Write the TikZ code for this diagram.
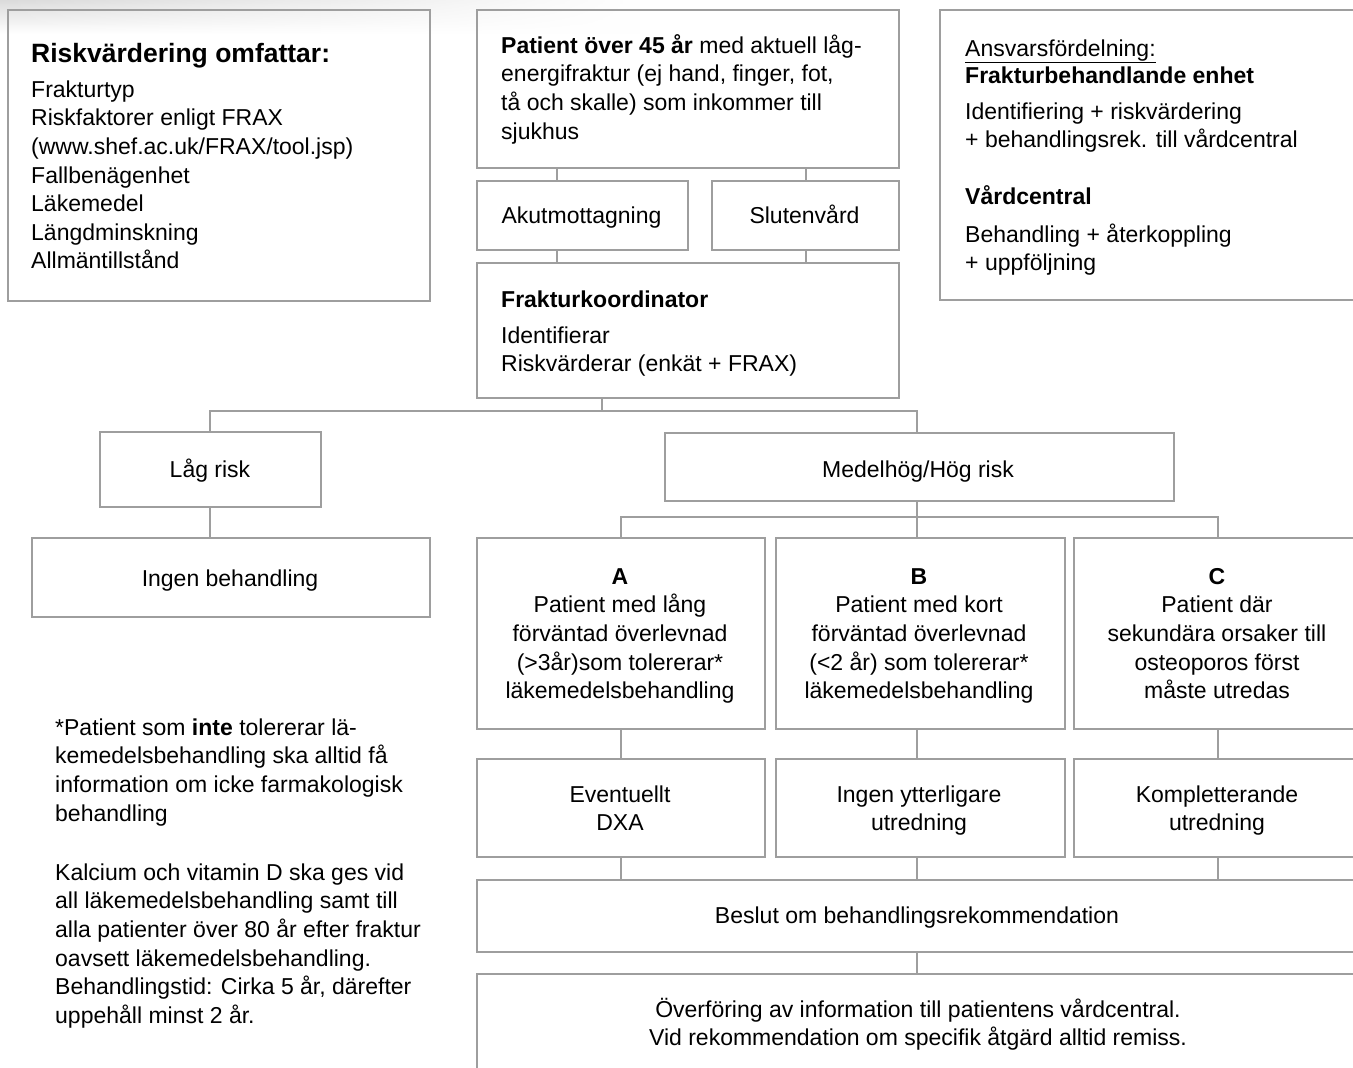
\documentclass[tikz,border=0pt]{standalone}
\usepackage{fontspec}
\setmainfont{Liberation Sans}
\usetikzlibrary{fadings}
\definecolor{linegray}{RGB}{158,158,158}
\newcommand{\fl}{\rule{0pt}{21pt}}
\newcommand{\bodysize}{\fontsize{23}{28.6}\selectfont}
\begin{document}
\begin{tikzpicture}[x=1pt,y=-1pt,
  box/.style={draw=linegray,line width=2.2pt,rectangle,inner sep=0pt,anchor=north west},
  conn/.style={draw=linegray,line width=2pt},
  txt/.style={inner sep=0pt,font=\bodysize,align=left,anchor=north west},
  ctxt/.style={inner sep=0pt,font=\bodysize,align=center,anchor=north},
  ]
\useasboundingbox (0,0) rectangle (1353,1068);
\clip (0,0) rectangle (1353,1068);
\fill[white] (0,0) rectangle (1353,1068);
\shade[top color=black!14,bottom color=white,path fading=east] (0,0) rectangle (640,34);

% boxes
\node[box,minimum width=422pt,minimum height=291pt] (risk) at (7,9) {};
\node[box,minimum width=422pt,minimum height=158pt] (pat) at (476,9) {};
\node[box,minimum width=211pt,minimum height=69pt] (akut) at (476,180) {};
\node[box,minimum width=187pt,minimum height=69pt] (sluten) at (711,180) {};
\node[box,minimum width=422pt,minimum height=135pt] (koord) at (476,262) {};
\node[box,minimum width=421pt,minimum height=290pt] (ansvar) at (939,9) {};
\node[box,minimum width=221pt,minimum height=75pt] (lag) at (99,431) {};
\node[box,minimum width=509pt,minimum height=68pt] (medel) at (664,432) {};
\node[box,minimum width=398pt,minimum height=79pt] (ingen) at (31,537) {};
\node[box,minimum width=288pt,minimum height=191pt] (boxA) at (476,537) {};
\node[box,minimum width=289pt,minimum height=191pt] (boxB) at (775,537) {};
\node[box,minimum width=287pt,minimum height=191pt] (boxC) at (1073,537) {};
\node[box,minimum width=288pt,minimum height=98pt] (dxa) at (476,758) {};
\node[box,minimum width=289pt,minimum height=98pt] (ytter) at (775,758) {};
\node[box,minimum width=287pt,minimum height=98pt] (kompl) at (1073,758) {};
\node[box,minimum width=884pt,minimum height=72pt] (beslut) at (476,879) {};
\node[box,minimum width=884pt,minimum height=110pt] (overf) at (476,973) {};

% connector coordinates
\coordinate (cx1) at (557,0);
\coordinate (cx2) at (806,0);
\coordinate (cx3) at (602,0);
\coordinate (cl) at (210,0);
\coordinate (cm) at (917,0);
\coordinate (ca) at (621,0);
\coordinate (cc) at (1218,0);
\coordinate (br1) at (0,411);
\coordinate (br2) at (0,517);

\draw[conn] (pat.south -| cx1) -- (akut.north -| cx1);
\draw[conn] (pat.south -| cx2) -- (sluten.north -| cx2);
\draw[conn] (akut.south -| cx1) -- (koord.north -| cx1);
\draw[conn] (sluten.south -| cx2) -- (koord.north -| cx2);
\draw[conn] (koord.south -| cx3) -- (br1 -| cx3);
\draw[conn] (lag.north -| cl) -- (br1 -| cl) -- (br1 -| cm) -- (medel.north -| cm);
\draw[conn] (lag.south -| cl) -- (ingen.north -| cl);
\draw[conn] (medel.south -| cm) -- (br2 -| cm);
\draw[conn] (boxA.north -| ca) -- (br2 -| ca) -- (br2 -| cc) -- (boxC.north -| cc);
\draw[conn] (br2 -| cm) -- (boxB.north -| cm);
\draw[conn] (boxA.south -| ca) -- (dxa.north -| ca);
\draw[conn] (boxB.south -| cm) -- (ytter.north -| cm);
\draw[conn] (boxC.south -| cc) -- (kompl.north -| cc);
\draw[conn] (dxa.south -| ca) -- (beslut.north -| ca);
\draw[conn] (ytter.south -| cm) -- (beslut.north -| cm);
\draw[conn] (kompl.south -| cc) -- (beslut.north -| cc);
\draw[conn] (beslut.south -| cm) -- (overf.north -| cm);

% texts
\node[inner sep=0pt,anchor=base west,font=\fontsize{26.5}{30}\selectfont\bfseries] (riskT) at (31,62) {Riskvärdering omfattar:};
\node[txt] (riskB) at (31,76) {\fl Frakturtyp\\Riskfaktorer enligt FRAX\\(www.shef.ac.uk/FRAX/tool.jsp)\\Fallbenägenhet\\Läkemedel\\Längdminskning\\Allmäntillstånd};

\node[txt] (patT) at (501,32) {\fl\textbf{Patient över 45 år} med aktuell låg-\\energifraktur (ej hand, finger, fot,\\tå och skalle) som inkommer till\\sjukhus};

\node[inner sep=0pt,anchor=base,font=\bodysize] (akutT) at (581.5,223) {Akutmottagning};
\node[inner sep=0pt,anchor=base,font=\bodysize] (slutenT) at (804.5,223) {Slutenvård};

\node[inner sep=0pt,anchor=base west,font=\bodysize\bfseries] (koordT) at (501,307) {Frakturkoordinator};
\node[txt] (koordB) at (501,322) {\fl Identifierar\\Riskvärderar (enkät + FRAX)};

\node[inner sep=0pt,anchor=base west,font=\bodysize] (ansT) at (965,56) {\underline{Ansvarsfördelning:}};
\node[inner sep=0pt,anchor=base west,font=\bodysize\bfseries] (ansF) at (965,83.5) {Frakturbehandlande enhet};
\node[txt] (ansFB) at (965,98) {\fl Identifiering + riskvärdering\\+ behandlingsrek. till vårdcentral};
\node[inner sep=0pt,anchor=base west,font=\bodysize\bfseries] (ansV) at (965,204) {Vårdcentral};
\node[txt] (ansVB) at (965,221) {\fl Behandling + återkoppling\\+ uppföljning};

\node[inner sep=0pt,anchor=base,font=\bodysize] (lagT) at (210,477) {Låg risk};
\node[inner sep=0pt,anchor=base,font=\bodysize] (medelT) at (918,477) {Medelhög/Hög risk};
\node[inner sep=0pt,anchor=base,font=\bodysize] (ingenT) at (230,586) {Ingen behandling};

\node[ctxt] (aT) at (620,563) {\fl\textbf{A}\\Patient med lång\\förväntad överlevnad\\(>3år)som tolererar*\\läkemedelsbehandling};
\node[ctxt] (bT) at (919,563) {\fl\textbf{B}\\Patient med kort\\förväntad överlevnad\\(<2 år) som tolererar*\\läkemedelsbehandling};
\node[ctxt] (cT) at (1217,563) {\fl\textbf{C}\\Patient där\\sekundära orsaker till\\osteoporos först\\måste utredas};

\node[ctxt] (dxaT) at (620,781) {\fl Eventuellt\\DXA};
\node[ctxt] (ytterT) at (919,781) {\fl Ingen ytterligare\\utredning};
\node[ctxt] (komplT) at (1217,781) {\fl Kompletterande\\utredning};

\node[inner sep=0pt,anchor=base,font=\bodysize] (beslutT) at (917,923) {Beslut om behandlingsrekommendation};
\node[ctxt] (overfT) at (918,996) {\fl Överföring av information till patientens vårdcentral.\\Vid rekommendation om specifik åtgärd alltid remiss.};

\node[txt] (note1) at (55,714) {\fl *Patient som \textbf{inte} tolererar lä-\\kemedelsbehandling ska alltid få\\information om icke farmakologisk\\behandling};
\node[txt] (note2) at (55,859) {\fl Kalcium och vitamin D ska ges vid\\all läkemedelsbehandling samt till\\alla patienter över 80 år efter fraktur\\oavsett läkemedelsbehandling.\\Behandlingstid: Cirka 5 år, därefter\\uppehåll minst 2 år.};
\end{tikzpicture}
\end{document}
